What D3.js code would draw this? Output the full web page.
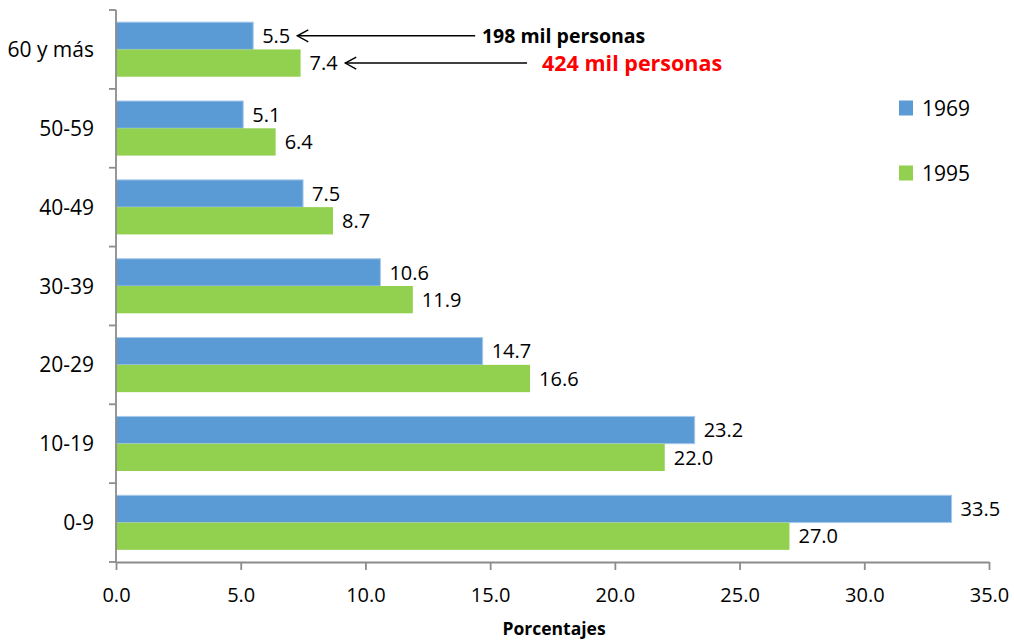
<!DOCTYPE html>
<html>
<head>
<meta charset="utf-8">
<script src="https://cdn.jsdelivr.net/npm/d3@7"></script>
<style>
  body { margin: 0; background: #fff; }
  text { font-family: "Open Sans", sans-serif; fill: #000; }
</style>
</head>
<body>
<svg></svg>
<script>
var categories = ['60 y más', '50-59', '40-49', '30-39', '20-29', '10-19', '0-9'];
var seriesNames = ['1969', '1995'];
var values1969 = [5.5, 5.1, 7.5, 10.6, 14.7, 23.2, 33.5];
var values1995 = [7.4, 6.4, 8.7, 11.9, 16.6, 22.0, 27.0];
var xTicks = [0, 5, 10, 15, 20, 25, 30, 35];
var notes = [
  { series: '1969', text: '198 mil personas', lineTo: 14.4, textAt: 14.67, color: '#000', size: 19.5 },
  { series: '1995', text: '424 mil personas', lineTo: 16.48, textAt: 17.08, color: '#ff0000', size: 21.5 }
];

var width = 1014;
var height = 640;
var plotLeft = 116, plotRight = 989, plotTop = 10, plotBottom = 562;
var colors = { '1969': '#5b9bd5', '1995': '#92d050' };
var axisColor = '#8c8c8c';

var rows = categories.map(function (c, i) {
  return { cat: c, vals: [ { s: '1969', v: values1969[i] }, { s: '1995', v: values1995[i] } ] };
});

var svg = d3.select('svg')
  .attr('width', width)
  .attr('height', height);

var xScale = d3.scaleLinear()
  .domain([0, 35])
  .range([plotLeft, plotRight]);

var yScale = d3.scaleBand()
  .domain(categories)
  .range([plotTop, plotBottom])
  .padding(0);

var subScale = d3.scaleBand()
  .domain(seriesNames)
  .range([0, yScale.bandwidth()])
  .paddingInner(0)
  .paddingOuter(0.445);

// bars
var groups = svg.selectAll('g.row')
  .data(rows)
  .enter()
  .append('g')
    .attr('class', 'row')
    .attr('transform', d => 'translate(0,' + yScale(d.cat) + ')');

groups.selectAll('rect')
  .data(d => d.vals)
  .enter()
  .append('rect')
    .attr('x', xScale(0))
    .attr('y', d => subScale(d.s))
    .attr('width', d => xScale(d.v) - xScale(0))
    .attr('height', subScale.bandwidth())
    .attr('fill', d => colors[d.s])
    .attr('stroke', d => d.s === '1969' ? '#a9c9ec' : 'none')
    .attr('stroke-width', 1);

groups.selectAll('text.val')
  .data(d => d.vals)
  .enter()
  .append('text')
    .attr('class', 'val')
    .attr('x', d => xScale(d.v) + 9)
    .attr('y', d => subScale(d.s) + subScale.bandwidth() / 2)
    .attr('dy', '0.36em')
    .style('font-size', '20px')
    .text(d => d3.format('.1f')(d.v));

// x axis
var xAxis = d3.axisBottom(xScale)
  .tickValues(xTicks)
  .tickFormat(d3.format('.1f'))
  .tickSize(8)
  .tickSizeOuter(0)
  .tickPadding(18);

var gx = svg.append('g')
  .attr('transform', 'translate(0,' + plotBottom + ')')
  .call(xAxis);
gx.select('.domain').attr('stroke', axisColor).attr('stroke-width', 1.8);
gx.selectAll('.tick line').attr('stroke', axisColor).attr('stroke-width', 1.8);
gx.selectAll('.tick text')
  .style('font-family', '"Open Sans", sans-serif')
  .style('font-size', '20px')
  .attr('fill', '#000');

// y axis (ticks between categories)
var gy = svg.append('g');
gy.append('line')
  .attr('x1', plotLeft).attr('x2', plotLeft)
  .attr('y1', plotTop).attr('y2', plotBottom)
  .attr('stroke', axisColor).attr('stroke-width', 1.8);
var bounds = categories.map(c => yScale(c)).concat([plotBottom]);
gy.selectAll('line.tick')
  .data(bounds)
  .enter()
  .append('line')
    .attr('class', 'tick')
    .attr('x1', plotLeft - 7).attr('x2', plotLeft)
    .attr('y1', d => d).attr('y2', d => d)
    .attr('stroke', axisColor).attr('stroke-width', 1.8);
gy.selectAll('text')
  .data(categories)
  .enter()
  .append('text')
    .attr('x', plotLeft - 22)
    .attr('y', d => yScale(d) + yScale.bandwidth() / 2)
    .attr('dy', '0.36em')
    .style('text-anchor', 'end')
    .style('font-size', '21px')
    .text(d => d);

// axis title
svg.append('text')
  .attr('x', 554)
  .attr('y', 635)
  .style('text-anchor', 'middle')
  .style('font-size', '17.5px')
  .style('font-weight', 'bold')
  .text('Porcentajes');

// legend
var legend = svg.append('g')
  .selectAll('g')
  .data(seriesNames)
  .enter()
  .append('g')
    .attr('transform', (d, i) => 'translate(899,' + (108 + i * 65) + ')');
legend.append('rect')
  .attr('x', 0).attr('y', -7.5)
  .attr('width', 14).attr('height', 15)
  .attr('fill', d => colors[d]);
legend.append('text')
  .attr('x', 23).attr('y', 0)
  .attr('dy', '0.36em')
  .style('font-size', '21px')
  .text(d => d);

// annotations with arrows
var firstRow = rows[0];
var labelNodes = groups.filter((d, i) => i === 0).selectAll('text.val').nodes();
notes.forEach(function (n, i) {
  var box = labelNodes[i].getBBox();
  var yc = yScale(firstRow.cat) + subScale(n.series) + subScale.bandwidth() / 2;
  var tip = box.x + box.width + 7;
  var x2 = xScale(n.lineTo);
  var a = svg.append('g').attr('stroke', '#000').attr('stroke-width', 1.4).attr('fill', 'none');
  a.append('line').attr('x1', tip).attr('x2', x2).attr('y1', yc).attr('y2', yc);
  a.append('path').attr('d', 'M' + (tip + 11) + ',' + (yc - 6) + 'L' + tip + ',' + yc + 'L' + (tip + 11) + ',' + (yc + 6));
  svg.append('text')
    .attr('x', xScale(n.textAt))
    .attr('y', yc)
    .attr('dy', '0.36em')
    .style('font-size', n.size + 'px')
    .style('font-weight', 'bold')
    .style('fill', n.color)
    .text(n.text);
});
</script>
</body>
</html>
